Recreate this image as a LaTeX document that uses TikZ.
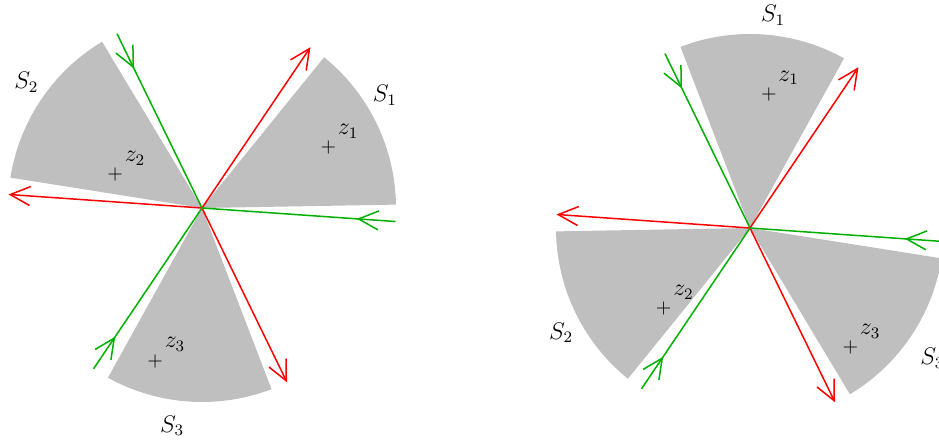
\documentclass[tikz,border=0pt]{standalone}
\usepackage{xcolor}
\usepackage{tikz}
\usetikzlibrary{arrows.meta,positioning,decorations.markings}
\definecolor{rayred}{RGB}{255,0,0}
\definecolor{raygreen}{RGB}{0,175,0}
\tikzset{
  wedgepicture/.style={x=0.5pt, y=0.5pt},
  wedgefill/.style={fill=black!25},
  rayout/.style={color=rayred, line width=0.75pt, -{Straight Barb[length=10pt,width=9.5pt]}},
  rayin/.style={color=raygreen, line width=0.75pt, postaction={decorate},
    decoration={markings, mark=at position 0.2 with {\arrow{Straight Barb[length=10pt,width=9.5pt]}}}},
  zmark/.style={inner sep=0pt, font=\normalsize},
  zname/.style={inner sep=0pt, font=\large},
  sname/.style={inner sep=0pt, font=\large}
}

\begin{document}
\begin{tikzpicture}[wedgepicture]
\useasboundingbox (0,0) rectangle (939,441);
% left picture
\begin{scope}[shift={(202,233)}]
\coordinate (lc) at (0,0);
\fill[wedgefill] (lc) -- (1:194) arc[start angle=1, end angle=51, radius=194] -- cycle;
\fill[wedgefill] (lc) -- (121:194) arc[start angle=121, end angle=171, radius=194] -- cycle;
\fill[wedgefill] (lc) -- (241:194) arc[start angle=241, end angle=291, radius=194] -- cycle;
\coordinate (lr1) at (56:194);
\coordinate (lr2) at (176:194);
\coordinate (lr3) at (296:194);
\coordinate (lg1) at (356:194);
\coordinate (lg2) at (116:194);
\coordinate (lg3) at (236:194);
\draw[rayout] (lc) -- (lr1);
\draw[rayout] (lc) -- (lr2);
\draw[rayout] (lc) -- (lr3);
\draw[rayin] (lg1) -- (lc);
\draw[rayin] (lg2) -- (lc);
\draw[rayin] (lg3) -- (lc);
\node[zmark] (lz1) at (25.5:140) {$+$};
\node[zmark] (lz2) at (159:93) {$+$};
\node[zmark] (lz3) at (253:160) {$+$};
\node[zname, above right=1pt and 0.5pt of lz1] (lz1n) {$z_1$};
\node[zname, above right=1pt and 0.5pt of lz2] (lz2n) {$z_2$};
\node[zname, above right=1pt and 0.5pt of lz3] (lz3n) {$z_3$};
\node[sname] (ls1) at (31.7:215) {$S_1$};
\node[sname] (ls2) at (144.4:216) {$S_2$};
\node[sname] (ls3) at (262.2:220) {$S_3$};
\end{scope}
% right picture
\begin{scope}[shift={(750,213)}]
\coordinate (rc) at (0,0);
\fill[wedgefill] (rc) -- (61:194) arc[start angle=61, end angle=111, radius=194] -- cycle;
\fill[wedgefill] (rc) -- (181:194) arc[start angle=181, end angle=231, radius=194] -- cycle;
\fill[wedgefill] (rc) -- (301:194) arc[start angle=301, end angle=351, radius=194] -- cycle;
\coordinate (rr1) at (56:194);
\coordinate (rr2) at (176:194);
\coordinate (rr3) at (296:194);
\coordinate (rg1) at (356:194);
\coordinate (rg2) at (116:194);
\coordinate (rg3) at (236:194);
\draw[rayout] (rc) -- (rr1);
\draw[rayout] (rc) -- (rr2);
\draw[rayout] (rc) -- (rr3);
\draw[rayin] (rg1) -- (rc);
\draw[rayin] (rg2) -- (rc);
\draw[rayin] (rg3) -- (rc);
\node[zmark] (rz1) at (82:135) {$+$};
\node[zmark] (rz2) at (223:118) {$+$};
\node[zmark] (rz3) at (310:156) {$+$};
\node[zname, above right=1pt and 0.5pt of rz1] (rz1n) {$z_1$};
\node[zname, above right=1pt and 0.5pt of rz2] (rz2n) {$z_2$};
\node[zname, above right=1pt and 0.5pt of rz3] (rz3n) {$z_3$};
\node[sname] (rs1) at (83.8:214) {$S_1$};
\node[sname] (rs2) at (209:216) {$S_2$};
\node[sname] (rs3) at (324.5:224) {$S_3$};
\end{scope}
\end{tikzpicture}
\end{document}
